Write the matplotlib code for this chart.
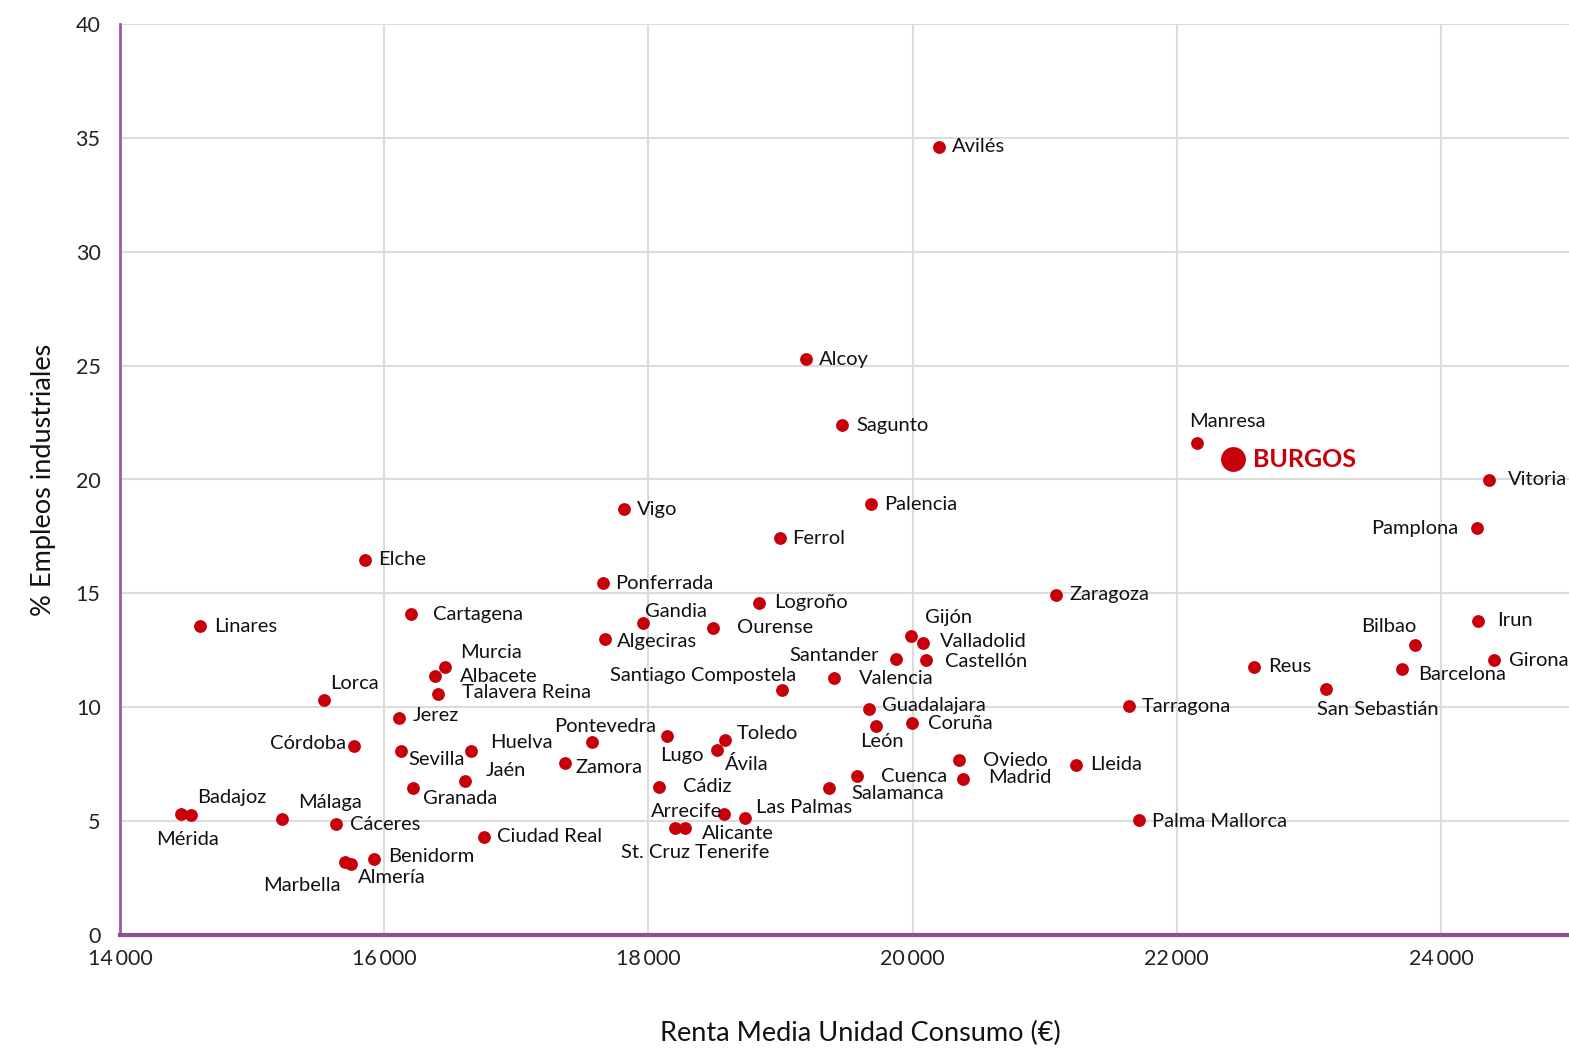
import matplotlib.pyplot as plt
from matplotlib.ticker import FuncFormatter

plt.rcParams['font.family'] = ['Lato', 'DejaVu Sans']

# Datos: ciudad, renta media por unidad de consumo (EUR), % empleos industriales
ciudades = [
    "Linares", "Elche", "Cartagena", "Lorca", "Murcia", "Albacete",
    "Talavera Reina", "Jerez", "Córdoba", "Sevilla", "Huelva", "Jaén",
    "Granada", "Badajoz", "Mérida", "Málaga", "Cáceres", "Ciudad Real",
    "Benidorm", "Marbella", "Almería", "Pontevedra", "Zamora", "Ponferrada",
    "Vigo", "Ferrol", "Palencia", "Alcoy", "Sagunto", "Avilés", "Logroño",
    "Gandia", "Ourense", "Algeciras", "Santiago Compostela", "Valencia",
    "Santander", "Gijón", "Valladolid", "Castellón", "Guadalajara", "Coruña",
    "León", "Lugo", "Toledo", "Ávila", "Cádiz", "Arrecife", "Las Palmas",
    "Alicante", "St. Cruz Tenerife", "Salamanca", "Cuenca", "Oviedo",
    "Madrid", "Lleida", "Zaragoza", "Tarragona", "Palma Mallorca", "Manresa",
    "Reus", "San Sebastián", "Barcelona", "Bilbao", "Irun", "Girona",
    "Vitoria", "Pamplona",
]
renta = [
    14606, 15855, 16206, 15544, 16457, 16385,
    16409, 16114, 15768, 16127, 16660, 16612,
    16220, 14538, 14465, 15227, 15638, 16755,
    15924, 15703, 15749, 17571, 17369, 17653,
    17818, 18994, 19687, 19190, 19467, 20197, 18839,
    17958, 18493, 17671, 19012, 19409,
    19877, 19991, 20080, 20102, 19672, 19999,
    19720, 18139, 18584, 18522, 18079, 18571, 18734,
    18280, 18204, 19369, 19580, 20350,
    20383, 21234, 21085, 21636, 21718, 22155,
    22589, 23130, 23704, 23806, 24279, 24400,
    24361, 24276,
]
empleo = [
    13.55, 16.47, 14.08, 10.34, 11.78, 11.36,
    10.60, 9.54, 8.32, 8.06, 8.06, 6.75,
    6.47, 5.28, 5.30, 5.09, 4.86, 4.32,
    3.35, 3.22, 3.12, 8.46, 7.57, 15.44,
    18.70, 17.42, 18.91, 25.27, 22.38, 34.62, 14.59,
    13.71, 13.49, 12.98, 10.76, 11.27,
    12.10, 13.13, 12.80, 12.07, 9.92, 9.29,
    9.19, 8.74, 8.56, 8.12, 6.51, 5.30, 5.15,
    4.70, 4.68, 6.44, 6.98, 7.68,
    6.85, 7.48, 14.93, 10.05, 5.05, 21.59,
    11.78, 10.78, 11.68, 12.73, 13.80, 12.07,
    19.98, 17.85,
]
burgos = ("BURGOS", 22426, 20.88)

# colocacion de etiquetas (desplazamiento en pixeles, alineacion)
etiquetas = {
    "Linares": (14, 0, "left"), "Elche": (13, 0, "left"),
    "Cartagena": (22, 0, "left"), "Lorca": (6, 16, "left"),
    "Murcia": (16, 14, "left"), "Albacete": (25, 0, "left"),
    "Talavera Reina": (24, 1, "left"), "Jerez": (14, 2, "left"),
    "Córdoba": (-8, 2, "right"), "Sevilla": (7, -8, "left"),
    "Huelva": (19, 9, "left"), "Jaén": (21, 11, "left"),
    "Granada": (10, -11, "left"), "Badajoz": (6, 17, "left"),
    "Mérida": (6, -25, "center"), "Málaga": (16, 17, "left"),
    "Cáceres": (14, 0, "left"), "Ciudad Real": (13, 0, "left"),
    "Benidorm": (14, 2, "left"), "Marbella": (-4, -24, "right"),
    "Almería": (7, -14, "left"), "Pontevedra": (13, 16, "center"),
    "Zamora": (10, -5, "left"), "Ponferrada": (13, 0, "left"),
    "Vigo": (13, 0, "left"), "Ferrol": (12, 0, "left"),
    "Palencia": (13, 0, "left"), "Alcoy": (13, 0, "left"),
    "Sagunto": (14, 0, "left"), "Avilés": (13, 0, "left"),
    "Logroño": (15, 0, "left"), "Gandia": (2, 11, "left"),
    "Ourense": (24, 0, "left"), "Algeciras": (12, -2, "left"),
    "Santiago Compostela": (14, 14, "right"), "Valencia": (24, 0, "left"),
    "Santander": (-17, 4, "right"), "Gijón": (14, 18, "left"),
    "Valladolid": (17, 2, "left"), "Castellón": (19, -1, "left"),
    "Guadalajara": (13, 4, "left"), "Coruña": (16, 0, "left"),
    "León": (6, -16, "center"), "Lugo": (15, -20, "center"),
    "Toledo": (11, 7, "left"), "Ávila": (8, -14, "left"),
    "Cádiz": (24, 0, "left"), "Arrecife": (-2, 3, "right"),
    "Las Palmas": (11, 10, "left"), "Alicante": (17, -6, "left"),
    "St. Cruz Tenerife": (20, -24, "center"), "Salamanca": (22, -5, "left"),
    "Cuenca": (24, 0, "left"), "Oviedo": (24, 0, "left"),
    "Madrid": (25, 1, "left"), "Lleida": (15, 0, "left"),
    "Zaragoza": (14, 0, "left"), "Tarragona": (13, 0, "left"),
    "Palma Mallorca": (13, -2, "left"), "Manresa": (-8, 22, "left"),
    "Reus": (14, 0, "left"), "San Sebastián": (-9, -20, "left"),
    "Barcelona": (16, -6, "left"), "Bilbao": (1, 19, "right"),
    "Irun": (19, 0, "left"), "Girona": (15, 0, "left"),
    "Vitoria": (19, 0, "left"), "Pamplona": (-19, 0, "right"),
}

rojo = "#c8000b"
morado = "#9a5aa2"

fig = plt.figure(figsize=(15.69, 10.5), dpi=100)
ax = fig.add_axes([120 / 1569, 115 / 1050, 1449 / 1569, 911 / 1050])

ax.scatter(renta, empleo, s=85, color=rojo, zorder=3, linewidths=0)
ax.scatter([burgos[1]], [burgos[2]], s=320, color=rojo, zorder=3, linewidths=0)

for nombre, x, y in zip(ciudades, renta, empleo):
    dx, dy, ha = etiquetas[nombre]
    ax.annotate(nombre, (x, y), xytext=(dx, dy), textcoords="offset pixels",
                ha=ha, va="center", fontsize=14.5, color="#111111", zorder=4)
ax.annotate(burgos[0], (burgos[1], burgos[2]), xytext=(20, 0),
            textcoords="offset pixels", ha="left", va="center",
            fontsize=18, fontweight="bold", color=rojo, zorder=4)

ax.set_xlim(14000, 24970)
ax.set_ylim(0, 40)
ax.set_xticks([14000, 16000, 18000, 20000, 22000, 24000])
ax.set_yticks(range(0, 41, 5))
ax.xaxis.set_major_formatter(FuncFormatter(lambda v, p: f"{int(v):,}".replace(",", "\u2009")))
ax.grid(True, color="#dcdcdc", linewidth=1.5)
ax.set_axisbelow(True)

for lado in ["top", "right"]:
    ax.spines[lado].set_visible(False)
ax.spines["left"].set_color(morado)
ax.spines["left"].set_linewidth(2)
ax.spines["bottom"].set_color("#8c4f92")
ax.spines["bottom"].set_linewidth(3)
ax.tick_params(length=0, labelsize=15.5, colors="#222222", pad=10)
ax.tick_params(axis="y", pad=14)

ax.set_xlabel("Renta Media Unidad Consumo (€)", fontsize=19.5, color="#111111")
ax.xaxis.set_label_coords(0.511, -0.094)
ax.set_ylabel("% Empleos industriales", fontsize=19.5, labelpad=14, color="#111111")

fig.savefig("out.png", dpi=100)
